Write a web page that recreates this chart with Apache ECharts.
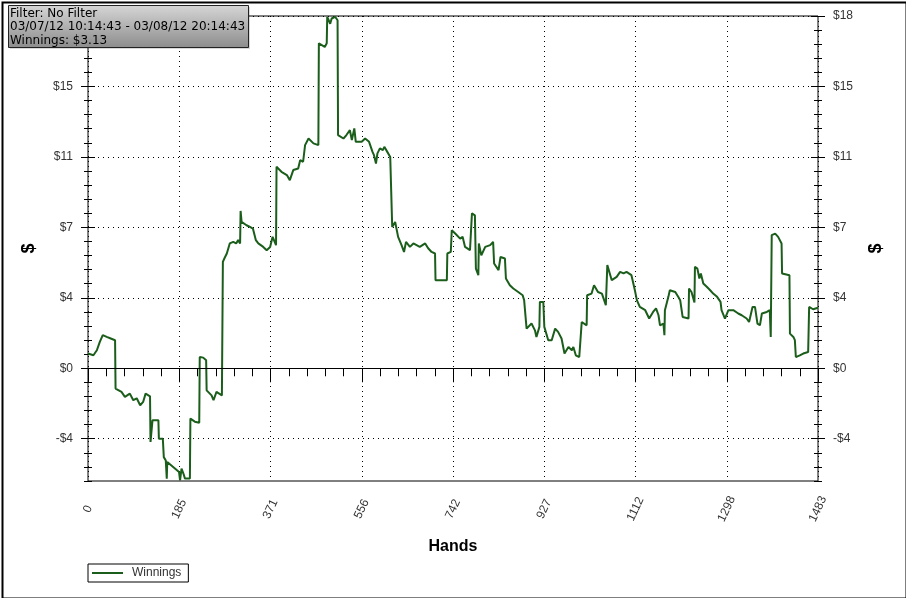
<!DOCTYPE html>
<html><head><meta charset="utf-8">
<script src="https://cdn.jsdelivr.net/npm/echarts@6/dist/echarts.min.js"></script>
<style>html,body{margin:0;padding:0;background:#fff}#c{width:906px;height:598px}</style>
</head><body><div id="c"></div>
<script>
// ---- data ----
const hands = [0,11,18,24,30,38,45,55,56,68,75,85,92,99,106,112,117,126,127,131,143,144,152,154,158,160,161,173,185,187,190,194,197,207,208,217,226,227,234,240,241,251,255,261,272,274,277,282,285,288,292,295,301,305,309,310,312,316,322,329,335,338,341,346,356,363,366,370,375,382,383,393,404,410,417,427,431,437,441,448,458,468,469,481,485,486,492,495,502,507,508,519,525,532,536,541,544,556,563,567,571,578,581,585,588,593,599,602,608,614,617,618,624,630,637,642,646,654,661,674,685,691,698,705,706,729,730,737,739,746,756,761,766,776,780,786,788,793,794,799,807,817,823,825,834,838,847,849,857,864,874,883,886,891,901,908,911,917,918,925,927,935,942,949,955,962,968,976,983,986,991,998,1002,1003,1013,1014,1023,1028,1036,1044,1052,1055,1064,1074,1081,1088,1094,1104,1108,1111,1115,1121,1132,1135,1140,1148,1154,1159,1162,1169,1171,1172,1179,1182,1193,1199,1203,1208,1220,1221,1226,1232,1233,1238,1242,1245,1250,1257,1264,1270,1278,1285,1287,1294,1301,1311,1321,1328,1338,1343,1350,1355,1360,1365,1369,1379,1385,1387,1389,1396,1402,1409,1410,1425,1426,1433,1436,1438,1446,1453,1463,1465,1473,1483];
const winnings = [0.76,0.67,0.93,1.36,1.71,1.62,1.55,1.45,-1.05,-1.22,-1.48,-1.31,-1.65,-1.55,-1.91,-1.74,-1.31,-1.45,-3.81,-2.69,-2.69,-3.64,-3.64,-4.59,-4.76,-5.7,-4.84,-5.1,-5.36,-5.79,-5.19,-5.45,-5.7,-5.7,-2.6,-2.76,-2.81,0.58,0.55,0.41,-1.14,-1.4,-1.65,-1.22,-1.4,5.5,5.67,5.93,5.84,6.45,6.36,6.53,6.45,6.62,6.45,8.13,7.56,7.47,7.39,7.3,7.22,7.3,6.62,6.45,6.27,6.1,6.1,6.27,6.79,6.36,10.41,10.15,9.98,9.72,10.24,10.32,10.75,10.67,11.53,11.87,11.62,11.53,16.79,16.6,16.79,18.16,17.8,18.07,18.16,17.98,12.05,11.87,12.05,12.3,11.79,12.39,11.7,11.7,11.87,11.96,11.7,11.18,11.01,10.58,11.1,11.36,11.27,11.44,11.18,10.92,10.84,7.3,7.56,6.79,6.36,6.01,6.53,6.27,6.45,6.27,6.45,6.2,6.01,5.93,4.55,4.55,5.93,6.01,7.13,6.96,6.7,6.79,6.27,6.1,8.0,7.9,5.15,4.81,6.45,5.84,6.27,6.36,6.53,5.41,5.07,5.75,5.67,4.64,4.29,4.12,3.94,3.77,3.52,2.05,2.31,1.96,1.62,2.14,3.43,3.43,2.14,1.45,1.45,2.05,1.88,1.54,0.76,1.1,0.93,1.1,0.67,0.58,0.67,2.39,2.22,3.77,3.86,4.29,3.94,3.86,3.26,5.33,4.55,4.72,4.98,4.9,4.98,4.81,4.72,4.03,3.52,3.17,3.0,3.09,2.57,2.91,3.09,2.74,2.22,2.31,1.71,3.0,3.69,4.03,3.94,3.69,3.52,2.65,2.57,4.12,3.94,3.4,5.24,5.15,4.64,4.9,4.38,4.21,4.03,3.86,3.69,3.43,3.0,2.57,3.0,3.0,2.83,2.74,2.57,2.39,3.17,3.17,2.31,2.22,2.83,2.91,3.0,1.62,6.88,6.96,6.79,6.45,4.9,4.81,1.79,1.62,1.45,0.58,0.67,0.76,0.84,3.17,3.05,3.13];
const xTickLabels = ['0','185','371','556','742','927','1112','1298','1483'];
const yTickValues = [-3.64, 0, 3.64, 7.28, 10.92, 14.56, 18.2];
const yTickLabels = ['-$4','$0','$4','$7','$11','$15','$18'];
const infoLines = ['Filter: No Filter', '03/07/12 10:14:43 - 03/08/12 20:14:43', 'Winnings: $3.13'];
const seriesName = 'Winnings';

// ---- chart ----
const X_MAX = 1483, X_STEP = X_MAX / 8;
const Y_MIN = -5.824, Y_MAX = 18.2, Y_MINOR = 0.728;
const LBL = {fontFamily: 'Liberation Sans', fontSize: 12, color: '#333'};

function yLabel(v) {
  for (let i = 0; i < yTickValues.length; i++) if (Math.abs(yTickValues[i] - v) < 1e-6) return yTickLabels[i];
  return '';
}
function yAxisMajor(pos) {
  const labelValues = pos === 'left' ? yTickValues.slice(0, -1) : yTickValues;
  return {
    type: 'value', position: pos, min: Y_MIN, max: Y_MAX, offset: -7,
    axisLine: {show: false},
    axisTick: {show: true, length: 14, customValues: yTickValues, lineStyle: {color: '#000', width: 1}},
    axisLabel: Object.assign({show: true, margin: 22, customValues: labelValues, formatter: yLabel}, LBL),
    splitLine: {show: pos === 'left', lineStyle: {color: '#000', type: [1, 4], width: 1}},
    name: '$', nameLocation: 'middle', nameRotate: 90,
    nameGap: pos === 'left' ? 57 : 56,
    nameTextStyle: {fontFamily: 'Liberation Sans', fontWeight: 'bold', fontSize: 18, color: '#000'}
  };
}
function yAxisMinor(pos) {
  return {
    type: 'value', position: pos, min: Y_MIN, max: Y_MAX, interval: Y_MINOR, offset: -4,
    axisLine: {show: false},
    axisTick: {show: true, length: 8, lineStyle: {color: '#000', width: 1}},
    axisLabel: {show: false}, splitLine: {show: false}
  };
}

const chart = echarts.init(document.getElementById('c'), null, {renderer: 'canvas'});
chart.setOption({
  animation: false,
  backgroundColor: '#fff',
  grid: {left: 88, right: 88, top: 16, bottom: 117, show: true, borderColor: '#000', borderWidth: 1, backgroundColor: '#fff'},
  xAxis: [
    {
      type: 'value', min: 0, max: X_MAX, interval: X_STEP, position: 'bottom', offset: -7,
      axisLine: {show: false},
      axisTick: {show: true, length: 14, lineStyle: {color: '#000'}},
      axisLabel: Object.assign({rotate: 65, margin: 35, align: 'center', verticalAlign: 'middle',
        formatter: v => xTickLabels[Math.round(v / X_STEP)] || ''}, LBL),
      splitLine: {show: true, lineStyle: {color: '#000', type: [1, 4], width: 1}},
      name: 'Hands', nameLocation: 'middle', nameGap: 65,
      nameTextStyle: {fontFamily: 'Liberation Sans', fontWeight: 'bold', fontSize: 16, color: '#000'}
    },
    {
      type: 'value', min: 0, max: X_MAX, interval: X_STEP / 5, position: 'bottom', offset: -4,
      axisLine: {show: false},
      axisTick: {show: true, length: 8, lineStyle: {color: '#000'}},
      axisLabel: {show: false}, splitLine: {show: false}
    }
  ],
  yAxis: [yAxisMajor('left'), yAxisMinor('left'), yAxisMajor('right'), yAxisMinor('right')],
  legend: {
    left: 88, top: 564, orient: 'horizontal', padding: [3, 7, 3, 4],
    borderColor: '#000', borderWidth: 1, backgroundColor: '#fff',
    icon: 'rect', itemWidth: 31, itemHeight: 2, itemGap: 6,
    textStyle: {fontFamily: 'Liberation Sans', fontSize: 12, color: '#333', padding: [0, 0, 0, 4]},
    data: [seriesName]
  },
  series: [{
    name: seriesName, type: 'line', xAxisIndex: 0, yAxisIndex: 0,
    data: hands.map((h, i) => [h, winnings[i]]),
    symbol: 'none', smooth: false,
    lineStyle: {color: '#1b5e1b', width: 2}, itemStyle: {color: '#1b5e1b'},
    markLine: {
      silent: true, symbol: 'none', label: {show: false},
      lineStyle: {color: '#000', type: 'solid', width: 1},
      data: [{yAxis: 0}]
    }
  }],
  graphic: [
    {type: 'rect', left: 0, top: 0, z: 100, zlevel: 2, silent: true,
     shape: {x: 1, y: 1, width: 904, height: 596}, style: {fill: 'none', stroke: '#000', lineWidth: 2}},
    {type: 'rect', left: 10, top: 7, z: 100, zlevel: 2, silent: true,
     shape: {x: 0, y: 0, width: 240, height: 42}, style: {fill: 'rgba(0,0,0,0.15)'}},
    {type: 'rect', left: 8, top: 5, z: 101, zlevel: 2, silent: true,
     shape: {x: 0, y: 0, width: 240, height: 42},
     style: {stroke: '#222', lineWidth: 1,
       fill: new echarts.graphic.LinearGradient(0, 0, 0, 1, [{offset: 0, color: '#d6d6d6'}, {offset: 1, color: '#8c8c8c'}])}},
    {type: 'text', left: 10, top: 7, z: 102, zlevel: 2, silent: true,
     style: {text: infoLines.join('\n'), fontFamily: 'DejaVu Sans', fontSize: 12, lineHeight: 13.5, fill: '#000'}}
  ]
});
</script></body></html>
